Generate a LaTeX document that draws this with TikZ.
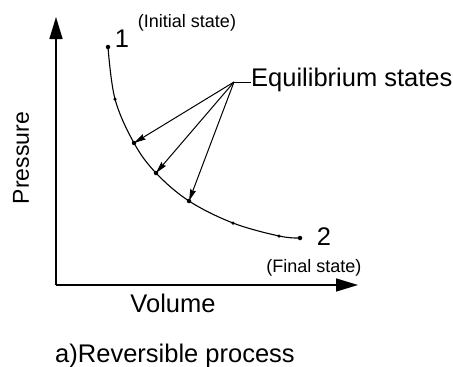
\documentclass[tikz,border=0pt]{standalone}
\usepackage{fontspec}
\setmainfont{Liberation Sans}
\usetikzlibrary{arrows.meta}
\begin{document}
\begin{tikzpicture}[x=1pt,y=-1pt,
  axis/.style={line width=1.5pt,-{Triangle[length=22pt,width=13pt]}},
  curve/.style={line width=1.1pt},
  pointer/.style={line width=1pt,-{Stealth[length=12pt,width=6pt,inset=1.5pt]}},
  dot/.style={circle,fill=black,inner sep=0pt,minimum size=4.5pt},
  big/.style={font=\fontsize{25.5}{30}\selectfont,inner sep=0pt},
  small/.style={font=\fontsize{18}{21}\selectfont,inner sep=0pt}]
\useasboundingbox (0,0) rectangle (453,367);
% axes
\coordinate (O) at (56,285);
\coordinate (ytip) at (56,17);
\coordinate (xtip) at (358,285);
\draw[axis] (O) -- (ytip);
\draw[axis] (O) -- (xtip);
% curve points
\node[dot] (p1) at (108,47) {};
\node[dot,minimum size=3.5pt] (p2) at (115,99) {};
\node[dot] (p3) at (134,143) {};
\node[dot] (p4) at (156,173) {};
\node[dot] (p5) at (189,201) {};
\node[dot,minimum size=3.5pt] (p6) at (233,223) {};
\node[dot,minimum size=3.5pt] (p7) at (279,236) {};
\node[dot] (p8) at (300,238) {};
\draw[curve] plot[smooth,tension=0.6] coordinates {(108,47) (115,99) (134,143) (156,173) (189,201) (233,223) (279,236) (300,238)};
% labels
\node[big] (one) at (122,39) {1};
\node[small] (init) at (187,23) {(Initial state)};
\node[big] (two) at (324,237) {2};
\node[small] (final) at (314,268) {(Final state)};
\node[big] (vol) at (173,303) {Volume};
\node[font=\fontsize{23}{27}\selectfont,inner sep=0pt,rotate=90] (pres) at (21,158) {Pressure};
\node[big] (cap) at (175,356) {a)Reversible process};
\node[big,anchor=west] (eq) at (251,80) {Equilibrium states};
\coordinate (fan) at (234,82);
\draw[line width=1pt] (eq.west) ++(0,2) -- (fan);
\draw[pointer] (fan) -- (p3.center);
\draw[pointer] (fan) -- (p4.center);
\draw[pointer] (fan) -- (p5.center);
\end{tikzpicture}
\end{document}
